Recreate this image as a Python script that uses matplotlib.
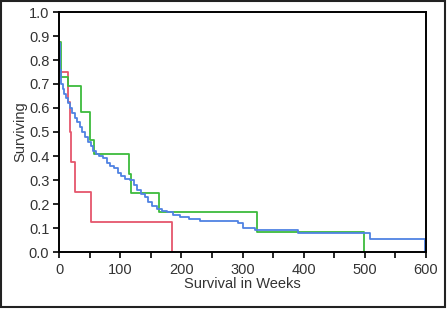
import matplotlib.pyplot as plt
from matplotlib.patches import Rectangle
from matplotlib.ticker import MultipleLocator

# Kaplan-Meier style step curves (weeks, fraction surviving)
red_t = [0, 2, 14, 18, 20, 26, 52, 184]
red_s = [0.875, 0.75, 0.625, 0.5, 0.375, 0.25, 0.125, 0.0]

green_t = [0, 3, 14, 36, 51, 57, 114, 118, 164, 323, 499]
green_s = [0.875, 0.73, 0.69, 0.585, 0.467, 0.41, 0.325, 0.247, 0.167, 0.085, 0.0]

blue_t = [0, 1, 2, 3, 4, 6, 8, 11, 15, 18, 22, 26, 30, 34, 38, 42, 48, 52, 56,
          60, 66, 72, 78, 84, 90, 96, 102, 108, 116, 122, 128, 134, 140, 146,
          152, 160, 168, 176, 186, 198, 212, 230, 293, 301, 320, 334, 391, 508, 598]
blue_s = [0.87, 0.80, 0.76, 0.73, 0.70, 0.68, 0.66, 0.64, 0.62, 0.60, 0.58, 0.56,
          0.54, 0.52, 0.50, 0.48, 0.46, 0.44, 0.42, 0.41, 0.40, 0.39, 0.37, 0.36,
          0.35, 0.33, 0.315, 0.305, 0.30, 0.28, 0.26, 0.24, 0.23, 0.21, 0.19,
          0.18, 0.17, 0.165, 0.155, 0.147, 0.138, 0.13, 0.12, 0.10, 0.092, 0.09,
          0.08, 0.053, 0.0]

plt.rcParams['font.family'] = ['Liberation Sans', 'DejaVu Sans']

fig = plt.figure(figsize=(4.48, 3.09), dpi=100)
ax = fig.add_axes([59 / 448, 57 / 309, 367 / 448, 240 / 309])

ax.step(red_t, red_s, where='post', color='#e5566c', lw=1.3)
ax.step(green_t, green_s, where='post', color='#3dbb3d', lw=1.3)
ax.step(blue_t, blue_s, where='post', color='#4f82e3', lw=1.3)

ax.set_xlim(0, 600)
ax.set_ylim(0, 1.0)
ax.xaxis.set_major_locator(MultipleLocator(100))
ax.xaxis.set_minor_locator(MultipleLocator(50))
ax.yaxis.set_major_locator(MultipleLocator(0.1))
ax.yaxis.set_major_formatter(plt.FormatStrFormatter('%.1f'))

for s in ax.spines.values():
    s.set_linewidth(1.4)
ax.tick_params(which='both', direction='out', width=1.2, colors='black',
               labelcolor='#333333', labelsize=10.5)
ax.tick_params(which='both', length=4)
ax.tick_params(axis='x', pad=4)
ax.tick_params(axis='y', pad=3)

ax.set_xlabel('Survival in Weeks', fontsize=10.5, color='#333333', labelpad=0)
ax.set_ylabel('Surviving', fontsize=10.5, color='#333333', labelpad=1)

# outer frame of the figure
fig.patches.append(Rectangle((0.002, 0.005), 0.992, 0.993, transform=fig.transFigure,
                             fill=False, edgecolor='#222222', lw=1.5))

fig.savefig('out.png', dpi=100)
